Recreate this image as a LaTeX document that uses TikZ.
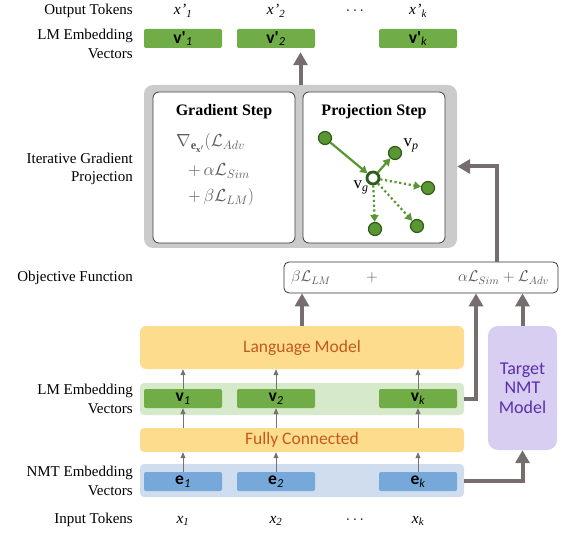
\documentclass[tikz,border=0pt]{standalone}
\usepackage{fix-cm}
\usepackage{fontspec}
\setmainfont{Liberation Serif}
\newfontfamily\boxfont{Carlito}
\usetikzlibrary{arrows.meta, positioning, calc}

\definecolor{vecgreen}{HTML}{70AD47}
\definecolor{stripgreen}{HTML}{D6E9CB}
\definecolor{vecblue}{HTML}{76A9DA}
\definecolor{stripblue}{HTML}{CFDDEE}
\definecolor{modelgold}{HTML}{FDDD8D}
\definecolor{modeltext}{HTML}{C5591B}
\definecolor{nmtlilac}{HTML}{D7CEF1}
\definecolor{nmttext}{HTML}{5B2EAD}
\definecolor{flowgray}{HTML}{766E6E}
\definecolor{panelgray}{HTML}{CBCBCB}
\definecolor{dotgreen}{HTML}{5A9632}
\definecolor{darkgreen}{HTML}{2E5A1C}

\begin{document}
\begin{tikzpicture}[x=1pt,y=-1pt,
  rowlabel/.style={align=right, inner sep=0pt, font=\fontsize{15}{18.5}\selectfont},
  token/.style={inner sep=0pt, font=\fontsize{15.5}{18}\selectfont},
  vecbox/.style={fill=vecgreen, rounded corners=2pt, minimum width=78pt, minimum height=19pt, inner sep=0pt, font=\boxfont\fontsize{17.5}{18}\selectfont\bfseries},
  embbox/.style={vecbox, fill=vecblue},
  strip/.style={rounded corners=4pt, minimum width=324pt, inner sep=0pt},
  modelbox/.style={fill=modelgold, rounded corners=6pt, minimum width=324pt, inner sep=0pt, text=modeltext, font=\boxfont\fontsize{17.5}{20}\selectfont},
  panel/.style={draw=black!75, fill=white, rounded corners=6pt, line width=0.8pt, minimum width=142pt, minimum height=151pt},
  steptitle/.style={font=\bfseries\fontsize{16}{18}\selectfont},
  lossterm/.style={inner sep=0pt, text=black!65, font=\fontsize{17.5}{20}\selectfont},
  objterm/.style={lossterm, font=\fontsize{15.5}{18}\selectfont},
  flow/.style={flowgray, line width=4pt, -{Triangle[width=14pt,length=13pt]}},
  feed/.style={black!55, line width=0.9pt, -{Triangle[width=5pt,length=6pt]}},
  point/.style={circle, fill=dotgreen, draw=darkgreen, line width=1.2pt, minimum size=13pt, inner sep=0pt},
  move/.style={dotgreen, line width=2.2pt, -{Triangle[width=8pt,length=7pt]}},
  guess/.style={move, dash pattern=on 2.2pt off 2.6pt}]
\useasboundingbox (0,0) rectangle (567,534);

% Row labels
\node[rowlabel, anchor=base east] (lblout) at (133,15) {Output Tokens};
\node[rowlabel, anchor=east] (lbllmtop) at (133,44) {LM Embedding\\Vectors};
\node[rowlabel, anchor=east] (lbliter) at (133,169) {Iterative Gradient\\Projection};
\node[rowlabel, anchor=base east] (lblobj) at (133,282) {Objective Function};
\node[rowlabel, anchor=east] (lbllm) at (133,399) {LM Embedding\\Vectors};
\node[rowlabel, anchor=east] (lblnmt) at (133,481) {NMT Embedding\\Vectors};
\node[rowlabel, anchor=base east] (lblin) at (133,523) {Input Tokens};

% Output tokens and vectors
\foreach \n/\x in {1/183,2/276,k/418} {
  \node[token, anchor=base] (xo\n) at (\x,15) {\textit{x\kern0.5pt\symbol{"27}\textsubscript{\n}}};
  \node[vecbox] (vo\n) at (\x,38.5) {v\symbol{"27}\textsubscript{\mdseries\itshape\n}};
}
\node[token, anchor=base] (dotsout) at (355,15) {$\cdots$};

% Iterative gradient projection
\node[fill=panelgray, rounded corners=9pt, minimum width=313pt, minimum height=163pt] (iter) at (300.5,166.5) {};
\node[panel] (grad) at (224,167.5) {};
\node[panel] (proj) at (374,167.5) {};
\node[steptitle] (gradtitle) at (224,112) {Gradient Step};
\node[steptitle] (projtitle) at (374,112) {Projection Step};
\node[lossterm, anchor=base west] (g1) at (176,147) {$\nabla_{\mathbf{e}_{\mathbf{x}'}}(\mathcal{L}_{Adv}$};
\node[lossterm, anchor=base west] (g2) at (188,176) {$+\,\alpha\mathcal{L}_{Sim}$};
\node[lossterm, anchor=base west] (g3) at (188,202) {$+\,\beta\mathcal{L}_{LM})$};

% Projection sketch
\node[point] (pstart) at (325,138) {};
\node[circle, fill=white, draw=darkgreen, line width=2.8pt, minimum size=12pt, inner sep=0pt] (vg) at (373,178) {};
\node[point] (vp) at (395,153) {};
\node[point] (pr) at (428,188) {};
\node[point] (pbl) at (375,229) {};
\node[point] (pbr) at (417,226) {};
\draw[move] (pstart) -- (vg);
\draw[move] (vg) -- (vp);
\draw[guess] (vg) -- (pr);
\draw[guess] (vg) -- (pbl);
\draw[guess] (vg) -- (pbr);
\node[token, anchor=base, font=\fontsize{17}{18}\selectfont] (lvp) at (411,147) {v\textsubscript{\itshape p}};
\node[token, anchor=base, font=\fontsize{17}{18}\selectfont] (lvg) at (361,189) {v\textsubscript{\itshape g}};

% Objective function
\node[draw=black!80, fill=white, rounded corners=5pt, line width=0.8pt, minimum width=274pt, minimum height=31pt] (obj) at (421,277.5) {};
\node[objterm, anchor=base west] (olm) at (291,282) {$\beta\mathcal{L}_{LM}$};
\node[objterm, anchor=base] (oplus) at (372,282) {$+$};
\node[objterm, anchor=base east] (oadv) at (549,282) {$\alpha\mathcal{L}_{Sim}+\mathcal{L}_{Adv}$};

% Models and embeddings
\node[modelbox, minimum height=43pt] (lm) at (302,347.5) {Language Model};
\node[strip, fill=stripgreen, minimum height=32pt] (lmvec) at (302,399) {};
\node[modelbox, minimum height=24pt, rounded corners=4pt] (fc) at (302,440) {Fully Connected};
\node[strip, fill=stripblue, minimum height=33pt] (nmtvec) at (302,480.5) {};
\node[fill=nmtlilac, rounded corners=10pt, minimum width=69pt, minimum height=124pt, align=center, text=nmttext, font=\boxfont\fontsize{18}{19.5}\selectfont] (nmt) at (522.5,388) {Target\\NMT\\Model};

\foreach \n/\x in {1/183,2/276,k/418} {
  \node[vecbox] (v\n) at (\x,398.5) {v\textsubscript{\mdseries\itshape\n}};
  \node[embbox] (e\n) at (\x,481.5) {e\textsubscript{\mdseries\itshape\n}};
  \node[token, anchor=base] (x\n) at (\x,523) {\textit{x\textsubscript{\n}}};
  \draw[feed] (e\n.north) -- (e\n.north |- fc.south);
  \draw[feed] (fc.north -| v\n) -- (v\n.south);
  \draw[feed] (v\n.north) -- (v\n.north |- lm.south);
}
\node[token, anchor=base] (dotsin) at (355,523) {$\cdots$};

% Main flow
\draw[flow] (nmtvec.east) -| (nmt.south);
\draw[flow] (nmt.north) -- (nmt.north |- obj.south);
\draw[flow] (lmvec.east) -| ([xshift=55pt]obj.south);
\draw[flow] (lm.north) -- (lm.north |- obj.south);
\draw[flow] ([xshift=76pt]obj.north) |- (iter.east);
\draw[flow, shorten >=4pt] (iter.north) -- (iter.north |- vo2.south);
\end{tikzpicture}
\end{document}
